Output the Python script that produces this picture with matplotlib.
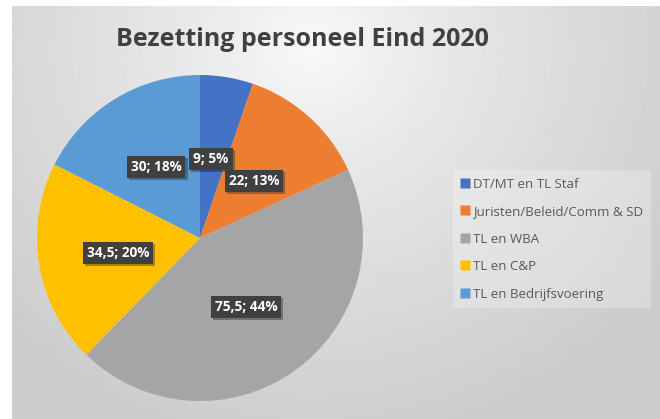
import numpy as np
import matplotlib
matplotlib.use("Agg")
import matplotlib.pyplot as plt
from matplotlib.lines import Line2D
import matplotlib.patheffects as pe

categories = ["DT/MT en TL Staf", "Juristen/Beleid/Comm & SD", "TL en WBA",
              "TL en C&P", "TL en Bedrijfsvoering"]
values = [9, 22, 75.5, 34.5, 30]
value_labels = ["9", "22", "75,5", "34,5", "30"]
title = "Bezetting personeel Eind 2020"

colors = ["#4472C4", "#ED7D31", "#A5A5A5", "#FFC000", "#5B9BD5"]
# label positions in pie units (radius = 1), Excel "best fit"
label_pos = [(0.067, 0.485), (0.331, 0.350), (0.282, -0.423),
             (-0.503, -0.092), (-0.270, 0.436)]

W, H = 660, 419
fig = plt.figure(figsize=(W / 100, H / 100), dpi=100)
fig.patch.set_facecolor("white")

# background radial gradient
bg = fig.add_axes([12 / W, 0, (W - 12) / W, (H - 6) / H])
bg.set_axis_off()
yy, xx = np.mgrid[0:413, 0:648]
cx, cy = 300, 40
d = np.sqrt(((xx - cx) / 1.0) ** 2 + ((yy - cy) / 0.95) ** 2)
t = np.clip(d / 430, 0, 1) ** 0.8
light, dark = 0.98, 0.80
img = light + (dark - light) * t
bg.imshow(img, cmap="gray", vmin=0, vmax=1, aspect="auto",
          extent=[0, 1, 0, 1], interpolation="bilinear")
bg.set_xlim(0, 1)
bg.set_ylim(0, 1)

# pie
r_px = 163
cxp, cyp = 200, 238
ax = fig.add_axes([(cxp - r_px) / W, (H - cyp - r_px) / H, 2 * r_px / W, 2 * r_px / H])
wedges, _ = ax.pie(values, colors=colors, startangle=90, counterclock=False,
                   radius=1, wedgeprops=dict(linewidth=0))
ax.set_xlim(-1, 1)
ax.set_ylim(-1, 1)
ax.set_aspect("equal")
ax.set_axis_off()

total = sum(values)
for v, vl, (x, y) in zip(values, value_labels, label_pos):
    pct = int(round(100 * v / total))
    s = f"{vl}; {pct}%"
    txt = ax.text(x, y, s, ha="center", va="center", fontsize=9.8, fontweight="bold",
                  family="Open Sans", color="white",
                  bbox=dict(boxstyle="square,pad=0.3", fc="#404040", ec="none"))
    txt.get_bbox_patch().set_path_effects(
        [pe.SimplePatchShadow(offset=(1.5, -1.5), alpha=0.35), pe.Normal()])

# title
fig.text(302 / W, 1 - 40 / H, title, ha="center", va="center", fontsize=18,
         fontweight="bold", family="Open Sans", color="#404040")

# legend
handles = [Line2D([], [], marker="s", linestyle="none", markersize=6.5,
                  markerfacecolor=c, markeredgecolor="none") for c in colors]
leg = fig.legend(handles, categories, loc="upper left",
                 bbox_to_anchor=(446 / W, 1 - 163 / H), frameon=True,
                 handlelength=0.7, handletextpad=0.25, labelspacing=1.1,
                 borderpad=0.6, labelcolor="#595959",
                 prop=dict(family="Open Sans", size=9.5))
leg.get_frame().set_facecolor("white")
leg.get_frame().set_alpha(0.25)
leg.get_frame().set_edgecolor("none")
leg.get_frame().set_boxstyle("square,pad=0")

fig.savefig("out.png", dpi=100)
